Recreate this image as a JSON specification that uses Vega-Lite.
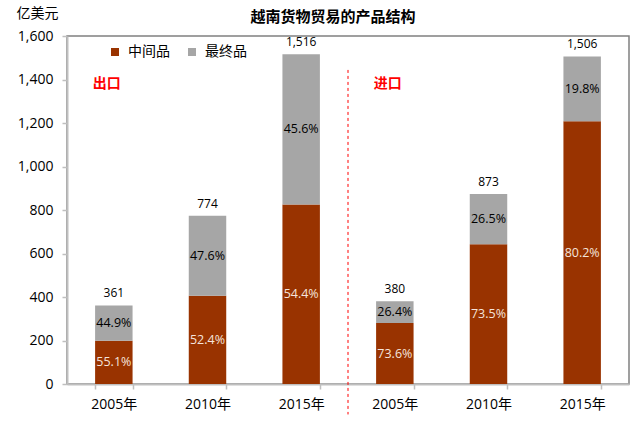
{
  "$schema": "https://vega.github.io/schema/vega-lite/v6.json",
  "width": 562,
  "height": 348,
  "autosize": {"type": "none"},
  "padding": {"left": 67, "top": 36, "right": 12, "bottom": 46},
  "background": "white",
  "title": {"text": "越南货物贸易的产品结构", "font": "Noto Sans CJK SC", "fontSize": 15, "fontWeight": "bold", "color": "#000000", "anchor": "middle", "dx": -15, "offset": -19},
  "config": {
    "view": {"stroke": "#808080", "strokeWidth": 1.5},
    "axis": {"labelFont": "Open Sans, Noto Sans CJK SC", "labelFontSize": 14, "labelColor": "#000000", "domainColor": "#BFBFBF", "domainWidth": 2, "tickColor": "#BFBFBF", "tickSize": 5, "tickWidth": 1.5, "grid": false},
    "legend": {"orient": "none", "legendX": 41, "legendY": 9, "direction": "horizontal", "symbolType": "square", "symbolSize": 64, "symbolStrokeWidth": 0, "labelFont": "Noto Sans CJK SC", "labelFontSize": 14, "labelColor": "#000000", "columnPadding": 15, "labelOffset": 6, "padding": 0, "title": null}
  },
  "datasets": {
    "main": [
      {"key": "E2005年", "type": "中间品", "ord": 1, "value": 199, "pct": "55.1%", "total": 361},
      {"key": "E2005年", "type": "最终品", "ord": 2, "value": 162, "pct": "44.9%", "total": 361},
      {"key": "E2010年", "type": "中间品", "ord": 1, "value": 406, "pct": "52.4%", "total": 774},
      {"key": "E2010年", "type": "最终品", "ord": 2, "value": 368, "pct": "47.6%", "total": 774},
      {"key": "E2015年", "type": "中间品", "ord": 1, "value": 825, "pct": "54.4%", "total": 1516},
      {"key": "E2015年", "type": "最终品", "ord": 2, "value": 691, "pct": "45.6%", "total": 1516},
      {"key": "I2005年", "type": "中间品", "ord": 1, "value": 280, "pct": "73.6%", "total": 380},
      {"key": "I2005年", "type": "最终品", "ord": 2, "value": 100, "pct": "26.4%", "total": 380},
      {"key": "I2010年", "type": "中间品", "ord": 1, "value": 642, "pct": "73.5%", "total": 873},
      {"key": "I2010年", "type": "最终品", "ord": 2, "value": 231, "pct": "26.5%", "total": 873},
      {"key": "I2015年", "type": "中间品", "ord": 1, "value": 1208, "pct": "80.2%", "total": 1506},
      {"key": "I2015年", "type": "最终品", "ord": 2, "value": 298, "pct": "19.8%", "total": 1506}
    ],
    "notes": [
      {"key": "E2005年", "y": 1380, "label": "出口"},
      {"key": "I2005年", "y": 1380, "label": "进口"}
    ],
    "divider": [
      {"key": "E2015年", "top": 1444, "bottom": -140}
    ]
  },
  "layer": [
    {
      "data": {"name": "main"},
      "mark": {"type": "bar"},
      "encoding": {
        "x": {"field": "key", "type": "nominal", "sort": null, "scale": {"paddingInner": 0.6, "paddingOuter": 0.3}, "axis": {"title": null, "labelAngle": 0, "labelExpr": "slice(datum.label, 1)", "tickBand": "extent", "labelPadding": 8}},
        "y": {"field": "value", "type": "quantitative", "stack": "zero", "scale": {"domain": [0, 1600], "nice": false}, "axis": {"title": "亿美元", "values": [0, 200, 400, 600, 800, 1000, 1200, 1400, 1600], "labelExpr": "format(datum.value, ',.0f')", "labelPadding": 9, "titleAngle": 0, "titleX": -30, "titleY": -23, "titleAlign": "center", "titleBaseline": "middle", "titleFont": "Noto Sans CJK SC", "titleFontSize": 14, "titleFontWeight": "normal", "titleColor": "#000000"}},
        "color": {"field": "type", "type": "nominal", "scale": {"domain": ["中间品", "最终品"], "range": ["#993300", "#A6A6A6"]}},
        "order": {"field": "ord", "type": "quantitative"}
      }
    },
    {
      "data": {"name": "main"},
      "mark": {"type": "text", "font": "Open Sans", "fontSize": 12.5, "baseline": "middle"},
      "encoding": {
        "x": {"field": "key", "type": "nominal", "sort": null},
        "y": {"field": "value", "type": "quantitative", "stack": "zero", "bandPosition": 0.5, "title": "亿美元"},
        "detail": {"field": "type"},
        "order": {"field": "ord", "type": "quantitative"},
        "text": {"field": "pct"},
        "color": {"condition": {"test": "datum.type === '中间品'", "value": "#F5E4DC"}, "value": "#000000"}
      }
    },
    {
      "data": {"name": "main"},
      "transform": [{"filter": "datum.type === '中间品'"}],
      "mark": {"type": "text", "font": "Open Sans", "fontSize": 12, "baseline": "bottom", "dy": -5, "color": "#000000"},
      "encoding": {
        "x": {"field": "key", "type": "nominal", "sort": null},
        "y": {"field": "total", "type": "quantitative", "title": "亿美元"},
        "text": {"field": "total", "type": "quantitative", "format": ","}
      }
    },
    {
      "data": {"name": "divider"},
      "mark": {"type": "rule", "color": "#FF0000", "strokeDash": [3, 3], "strokeWidth": 1},
      "encoding": {
        "x": {"field": "key", "type": "nominal", "sort": null, "bandPosition": 1.75},
        "y": {"field": "top", "type": "quantitative", "title": "亿美元"},
        "y2": {"field": "bottom"}
      }
    },
    {
      "data": {"name": "notes"},
      "mark": {"type": "text", "font": "Noto Sans CJK SC", "fontSize": 14, "fontWeight": "bold", "color": "#FF0000", "baseline": "middle", "dx": -7},
      "encoding": {
        "x": {"field": "key", "type": "nominal", "sort": null},
        "y": {"field": "y", "type": "quantitative", "title": "亿美元"},
        "text": {"field": "label"}
      }
    }
  ]
}
